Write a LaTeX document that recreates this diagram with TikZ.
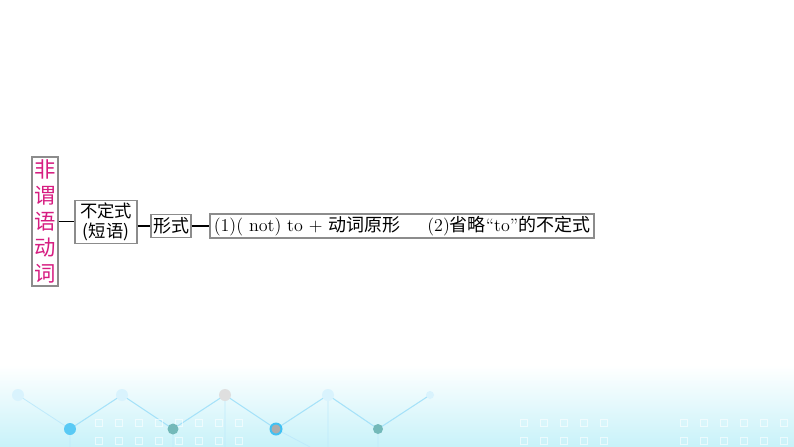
\documentclass[tikz,border=0pt]{standalone}
\usepackage{fontspec}
\newfontfamily\cjk{Noto Sans CJK SC}
\definecolor{pinkword}{RGB}{214,28,128}
\definecolor{boxline}{RGB}{140,140,140}
\definecolor{bgcyan}{RGB}{200,242,249}
\tikzset{box/.style={draw=boxline,line width=0.9pt,inner sep=0pt,align=center}}
\begin{document}
\begin{tikzpicture}[x=0.75pt,y=-0.75pt]
\useasboundingbox (0,0) rectangle (794,447);

\scope % background strip
\shade[top color=white,bottom color=bgcyan] (0,365) rectangle (794,447);
\draw[cyan!35,line width=0.8pt] (70,429) -- (122,395) -- (173,429) -- (225,395) -- (276,429)
      -- (328,395) -- (378,429) -- (430,395);
\draw[cyan!25,line width=0.6pt] (18,395) -- (70,429) (173,429) -- (173,447) (276,429) -- (310,447)
      (225,395) -- (225,447) (328,395) -- (328,447) (70,429) -- (70,447) (378,429) -- (378,447);
\foreach \x in {95,115,...,235,520,540,...,600,680,700,...,780}
  \draw[white,opacity=0.6,line width=0.7pt] (\x,419) rectangle +(7,7) (\x,437) rectangle +(7,7);
\fill[cyan!15] (18,395) circle (6) (122,395) circle (6) (328,395) circle (6) (430,395) circle (4);
\fill[gray!25] (225,395) circle (6);
\fill[cyan!65] (70,429) circle (6);
\fill[teal!55] (173,429) circle (5.5) (378,429) circle (5);
\fill[cyan!75] (276,429) circle (6.5);
\fill[gray!65] (276,429) circle (4.5);
\endscope

% boxes
\node[box,minimum width=19.5pt,minimum height=96.75pt,text=pinkword,
      font=\cjk\fontsize{16}{19.5}\selectfont] (fwy) at (45,221.5) {非\\谓\\语\\动\\词};
\node[box,minimum width=46.5pt,minimum height=32pt,
      font=\cjk\fontsize{13}{15.5}\selectfont] (bdz) at (106,222) {不定式\\(短语)};
\node[box,minimum width=30pt,minimum height=17pt,
      font=\cjk\fontsize{13.5}{15}\selectfont] (xs) at (171,226) {形式};
\node[box,minimum width=288pt,minimum height=18pt,font=\fontsize{13.5}{16}\selectfont] (form) at (402,226)
      {(1)( not) to + {\cjk 动词原形}\quad\enspace (2){\cjk 省略}``to''{\cjk 的不定式}};

% connectors
\draw[line width=0.8pt] (fwy.east) -- (bdz.west |- fwy.east)
      (bdz.east |- xs.west) -- (xs.west)
      (xs.east) -- (form.west);
\end{tikzpicture}
\end{document}
